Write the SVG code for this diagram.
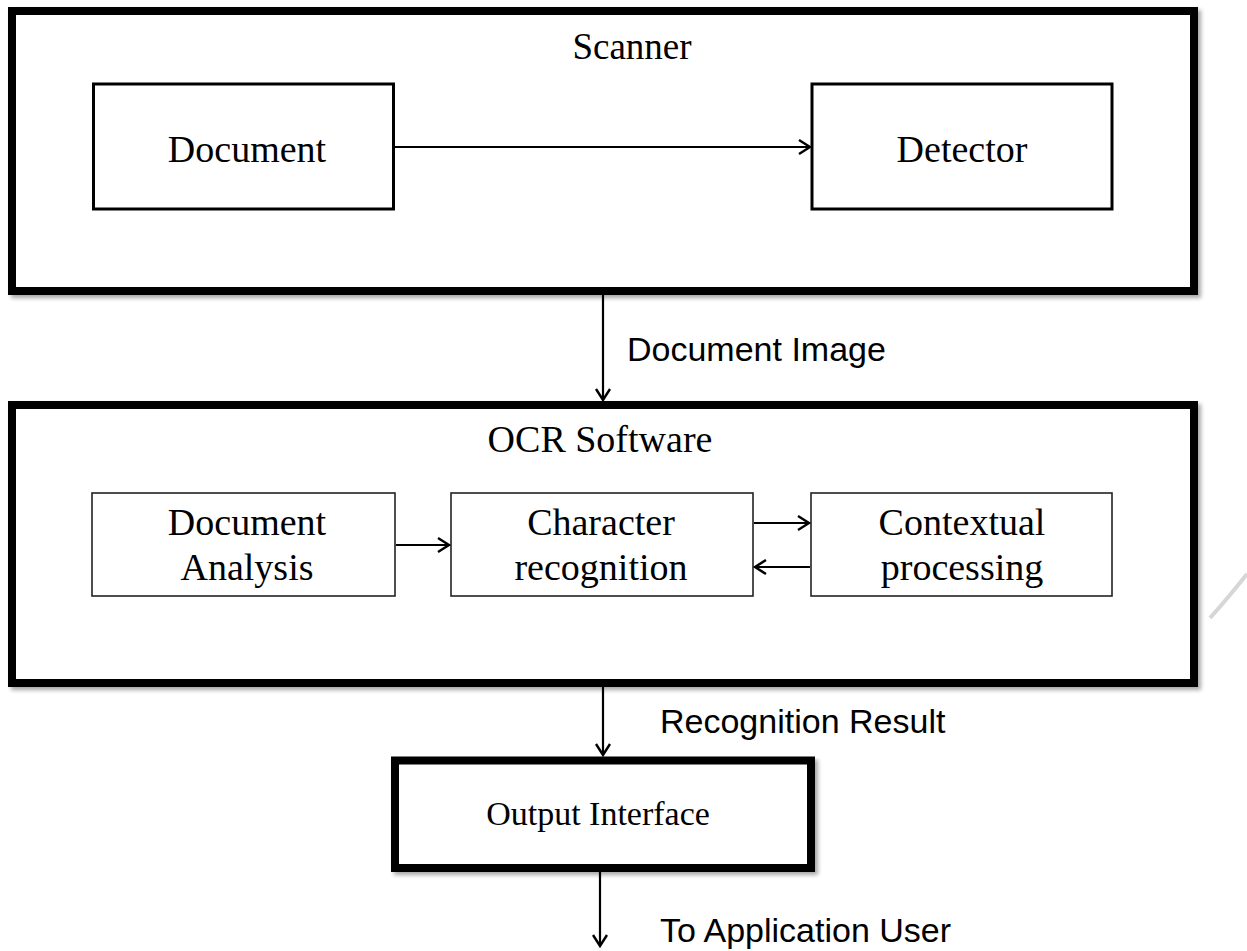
<svg xmlns="http://www.w3.org/2000/svg" width="1247" height="951" viewBox="0 0 1247 951">
<style>
.thick{fill:#fff;stroke:#000;stroke-width:8;filter:url(#sh)}
.mid{fill:#fff;stroke:#000;stroke-width:3}
.thin{fill:#fff;stroke:#222;stroke-width:1.6}
.serif{font-family:"Liberation Serif","Times New Roman",serif;fill:#000;text-anchor:middle}
.sans{font-family:"Liberation Sans",Arial,sans-serif;fill:#000}
.conn{stroke:#000;stroke-width:2.2;fill:none;marker-end:url(#ah)}
</style>
<defs>
<filter id="sh" x="-5%" y="-5%" width="110%" height="115%">
<feGaussianBlur in="SourceAlpha" stdDeviation="2"/>
<feOffset dx="3" dy="3" result="b"/>
<feComponentTransfer><feFuncA type="linear" slope="0.35"/></feComponentTransfer>
<feMerge><feMergeNode/><feMergeNode in="SourceGraphic"/></feMerge>
</filter>
<marker id="ah" markerWidth="16" markerHeight="18" refX="13" refY="9" orient="auto" markerUnits="userSpaceOnUse">
<path d="M2,2 L13,9 L2,16" fill="none" stroke="#000" stroke-width="2.4"/>
</marker>
</defs>
<rect width="1247" height="951" fill="#fff"/>
<path d="M1210,618 Q1228,598 1247,574" stroke="#d6d6d6" stroke-width="4" fill="none"/>

<g id="scanner">
<rect class="thick" x="12" y="11" width="1182" height="280"/>
<text class="serif" x="632" y="59" font-size="37">Scanner</text>
</g>
<g id="document">
<rect class="mid" x="93.5" y="84" width="300" height="125"/>
<text class="serif" x="247" y="162" font-size="38">Document</text>
</g>
<g id="detector">
<rect class="mid" x="812" y="84" width="300" height="125"/>
<text class="serif" x="962" y="162" font-size="38">Detector</text>
</g>

<g id="ocr">
<rect class="thick" x="12" y="405" width="1182" height="278"/>
<text class="serif" x="600" y="452" font-size="38">OCR Software</text>
</g>
<g id="docanalysis">
<rect class="thin" x="92" y="493" width="303" height="103"/>
<text class="serif" x="247" y="535" font-size="38">Document</text>
<text class="serif" x="247" y="580" font-size="38">Analysis</text>
</g>
<g id="charrec">
<rect class="thin" x="451" y="493" width="302" height="103"/>
<text class="serif" x="601" y="535" font-size="38">Character</text>
<text class="serif" x="601" y="580" font-size="38">recognition</text>
</g>
<g id="context">
<rect class="thin" x="811" y="493" width="301" height="103"/>
<text class="serif" x="962" y="535" font-size="38">Contextual</text>
<text class="serif" x="962" y="580" font-size="38">processing</text>
</g>

<g id="output">
<rect class="thick" x="395" y="760.5" width="416" height="107.5"/>
<text class="serif" x="598" y="825" font-size="34">Output Interface</text>
</g>

<g id="connectors">
<line class="conn" x1="395" y1="147" x2="810" y2="147"/>
<line class="conn" x1="603" y1="295" x2="603" y2="400"/>
<line class="conn" x1="396" y1="545" x2="449" y2="545"/>
<line class="conn" x1="754" y1="523" x2="809" y2="523"/>
<line class="conn" x1="810" y1="567" x2="755" y2="567"/>
<line class="conn" x1="603" y1="687" x2="603" y2="755"/>
<line class="conn" x1="600" y1="872" x2="600" y2="946"/>
<text class="sans" x="627" y="361" font-size="34">Document Image</text>
<text class="sans" x="660" y="733" font-size="34">Recognition Result</text>
<text class="sans" x="660" y="942" font-size="34">To Application User</text>
</g>
</svg>
